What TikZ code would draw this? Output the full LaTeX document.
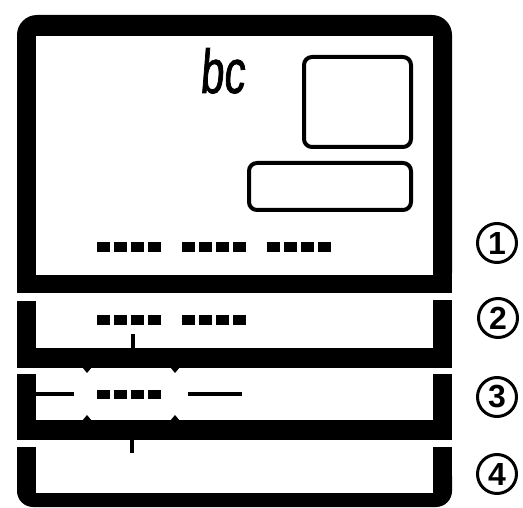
\documentclass[tikz,border=0pt]{standalone}
\usepackage{fontspec}
\setmainfont{Liberation Sans}
\newfontfamily\logofont[FakeSlant=0.08,FakeStretch=0.68,FakeBold=1.2]{Liberation Sans}
\begin{document}
\begin{tikzpicture}[x=1pt,y=-1pt,
  win/.style={draw=black, line width=4pt, rounded corners=8pt},
  num/.style={circle, draw, line width=3pt, minimum size=39pt, inner sep=0pt,
    font=\fontsize{32}{32}\selectfont\bfseries},
  tickline/.style={line width=3.6pt},
  rule/.style={line width=3.4pt},
]
\useasboundingbox (0,0) rectangle (523,508);
% section 1
\fill[rounded corners=20pt] (17,15) rectangle (452,293);
\fill (17,200) rectangle (452,293);
\fill[white] (36,36) rectangle (433,275);
% section 2
\fill (17,301) rectangle (36,368);
\fill (433,300) rectangle (452,368);
\fill (17,348) rectangle (452,368);
% section 3
\fill (17,374) rectangle (36,440);
\fill (433,374) rectangle (452,440);
\fill (17,420) rectangle (452,440);
% section 4
\fill[rounded corners=16pt] (17,460) rectangle (452,507);
\fill (17,447) rectangle (36,480);
\fill (433,447) rectangle (452,480);
\fill[white] (36,447) rectangle (433,493);
% windows
\draw[win] (304,57) rectangle (411,147);
\draw[win] (249,163) rectangle (411,210);
% logo
\node[anchor=base, inner sep=0pt] (logo) at (222,93) {\logofont\fontsize{62}{62}\selectfont bc};
% number squares
\foreach \gx/\gy in {97/247,182/247,267/247,97/320,182/320,97/394}
  \foreach \i in {0,...,3}
    \fill ({\gx+17*\i},{\gy-4.5}) rectangle ++(13,9.5);
% section 2 tick
\coordinate (t2a) at (133,334);
\coordinate (t2b) at (133,349);
\draw[tickline] (t2a) -- (t2b);
% section 3 lines
\coordinate (l3a) at (36,394);
\coordinate (l3b) at (74,394);
\coordinate (r3a) at (188,394);
\coordinate (r3b) at (242,394);
\draw[rule] (l3a) -- (l3b);
\draw[rule] (r3a) -- (r3b);
% notches
\foreach \nx in {87,175} {
  \fill (\nx-5,367) -- (\nx+5,367) -- (\nx,373) -- cycle;
  \fill (\nx-5,421) -- (\nx+5,421) -- (\nx,415) -- cycle;
}
% section 3 tick
\coordinate (t3a) at (132,439);
\coordinate (t3b) at (132,453);
\draw[tickline] (t3a) -- (t3b);
% circled numbers
\node[num] (n1) at (497,243) {1};
\node[num] (n2) at (498,318) {2};
\node[num] (n3) at (497,397) {3};
\node[num] (n4) at (497,474) {4};
\end{tikzpicture}
\end{document}
